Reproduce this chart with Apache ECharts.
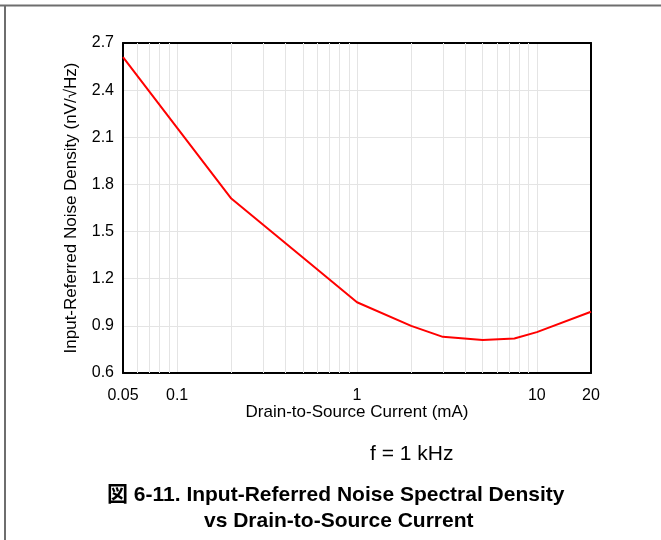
<!DOCTYPE html>
<html>
<head>
<meta charset="utf-8">
<script src="https://cdn.jsdelivr.net/npm/echarts@6/dist/echarts.min.js"></script>
<style>
  html, body { margin: 0; padding: 0; background: #fff; }
  #chart { width: 661px; height: 540px; }
</style>
</head>
<body>
<div id="chart"></div>
<script>
  // drain current (mA) vs input-referred noise (nV/rtHz) at 1 kHz
  let currentMA = [0.05, 0.1, 0.2, 0.5, 1, 2, 3, 5, 7.5, 10, 20];
  let noise = [2.61, 2.16, 1.71, 1.335, 1.05, 0.9, 0.83, 0.81, 0.82, 0.86, 0.99];
  // light vertical gridlines between the decades
  let minorX = [0.06, 0.07, 0.08, 0.09, 0.2, 0.3, 0.4, 0.5, 0.6, 0.7, 0.8, 0.9,
    2, 3, 4, 5, 6, 7, 8, 9];

  let font = "'Liberation Sans', Arial, 'Noto Sans CJK JP', sans-serif";
  let gridColor = '#e4e4e4';

  let myChart = echarts.init(document.getElementById('chart'));

  let option = {
    backgroundColor: '#fff',
    animation: false,
    grid: { left: 123, right: 70, top: 43, bottom: 167 },
    xAxis: [{
      type: 'log',
      logBase: 10,
      min: 0.05,
      max: 20,
      name: 'Drain-to-Source Current (mA)',
      nameLocation: 'middle',
      nameGap: 31,
      nameMoveOverlap: false,
      nameTextStyle: { color: '#000', fontSize: 17, fontFamily: font },
      axisLine: { lineStyle: { color: '#000', width: 2 } },
      axisTick: { show: false },
      axisLabel: { color: '#000', fontSize: 16, fontFamily: font, margin: 15 },
      splitLine: { show: true, showMinLine: false, showMaxLine: false,
        lineStyle: { color: gridColor, width: 1 } }
    }, {
      type: 'log',
      min: 0.05,
      max: 20,
      position: 'top',
      axisLine: { lineStyle: { color: '#000', width: 2 } },
      axisTick: { show: false },
      axisLabel: { show: false },
      splitLine: { show: false }
    }],
    yAxis: [{
      type: 'value',
      min: 0.6,
      max: 2.7,
      interval: 0.3,
      name: 'Input-Referred Noise Density (nV/\u221AHz)',
      nameLocation: 'middle',
      nameGap: 43,
      nameMoveOverlap: false,
      nameTextStyle: { color: '#000', fontSize: 17, fontFamily: font },
      axisLine: { show: true, lineStyle: { color: '#000', width: 2 } },
      axisTick: { show: false },
      axisLabel: { color: '#000', fontSize: 16, fontFamily: font, margin: 9,
        formatter: function (v) { return v.toFixed(1); } },
      splitLine: { show: true, showMinLine: false, showMaxLine: false,
        lineStyle: { color: gridColor, width: 1 } }
    }, {
      type: 'value',
      min: 0.6,
      max: 2.7,
      interval: 0.3,
      position: 'right',
      axisLine: { show: true, lineStyle: { color: '#000', width: 2 } },
      axisTick: { show: false },
      axisLabel: { show: false },
      splitLine: { show: false }
    }],
    series: [{
      type: 'line',
      xAxisIndex: 0,
      yAxisIndex: 0,
      data: currentMA.map(function (c, i) { return [c, noise[i]]; }),
      showSymbol: false,
      lineStyle: { color: '#ff0000', width: 2 },
      z: 5,
      markLine: {
        silent: true,
        symbol: 'none',
        label: { show: false },
        lineStyle: { color: gridColor, width: 1, type: 'solid' },
        data: minorX.map(function (v) { return { xAxis: v }; }),
        z: 1
      }
    }],
    graphic: [
      { type: 'line', shape: { x1: 0, y1: 5.5, x2: 661, y2: 5.5 },
        style: { stroke: '#6e6e6e', lineWidth: 2 } },
      { type: 'line', shape: { x1: 5, y1: 5, x2: 5, y2: 540 },
        style: { stroke: '#6e6e6e', lineWidth: 2 } },
      { type: 'text', left: 370, top: 444,
        style: { text: 'f = 1 kHz', fill: '#000', font: '21px ' + font } },
      { type: 'text', left: 107, top: 485,
        style: { text: '図 6-11. Input-Referred Noise Spectral Density',
          fill: '#000', font: 'bold 21px ' + font } },
      { type: 'text', left: 204, top: 511,
        style: { text: 'vs Drain-to-Source Current',
          fill: '#000', font: 'bold 21px ' + font } }
    ]
  };

  myChart.setOption(option);
</script>
</body>
</html>
